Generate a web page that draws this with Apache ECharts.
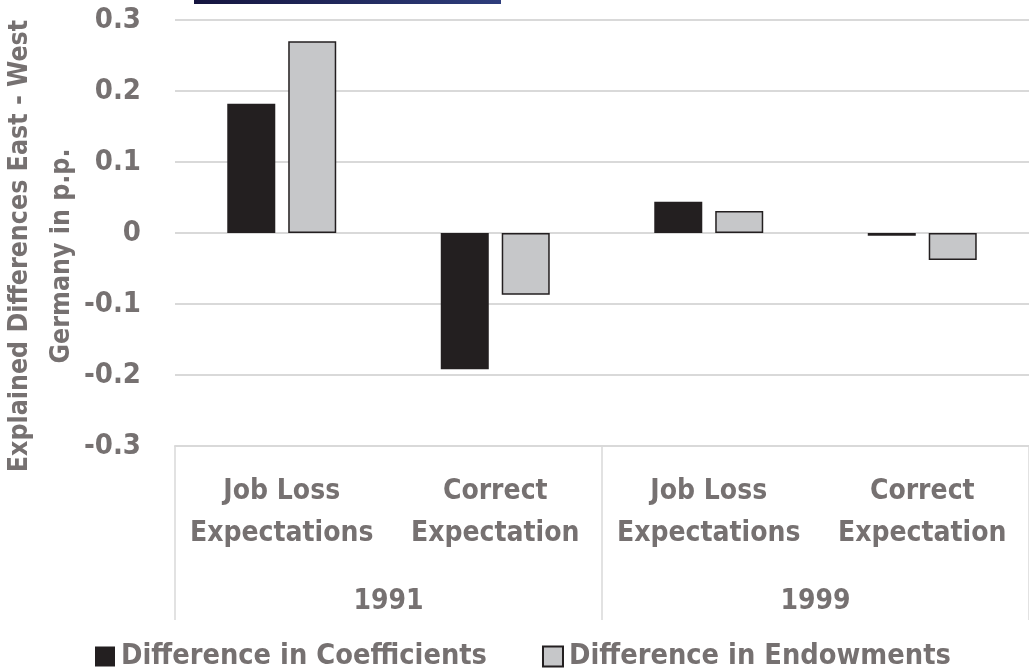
<!DOCTYPE html>
<html>
<head>
<meta charset="utf-8">
<script src="https://cdn.jsdelivr.net/npm/echarts@6/dist/echarts.min.js"></script>
<style>
html,body{margin:0;padding:0;background:#fff;}
#chart{width:1029px;height:670px;}
</style>
</head>
<body>
<div id="chart"></div>
<script>
// ---- data ----
var categories = ['Job Loss\nExpectations', 'Correct\nExpectation', 'Job Loss\nExpectations', 'Correct\nExpectation'];
var years = ['1991', '1999'];
var seriesNames = ['Difference in Coefficients', 'Difference in Endowments'];
var coefficients = [0.182, -0.192, 0.044, -0.004];
var endowments = [0.270, -0.087, 0.031, -0.038];
var yTitleLines = ['Explained Differences East - West', 'Germany in p.p.'];

// ---- styling ----
var FONT = '"Liberation Sans Narrow", "DejaVu Sans Condensed", "Liberation Sans", sans-serif';
var TXT = '#767171';
var GRID = '#d9d9d9';

var chart = echarts.init(document.getElementById('chart'), null, {renderer: 'canvas'});
chart.setOption({
  animation: false,
  backgroundColor: '#ffffff',
  grid: {left: 175, right: 0, top: 20, bottom: 224, containLabel: false},
  legend: {
    left: 90, top: 637,
    icon: 'rect', itemWidth: 20, itemHeight: 20, itemGap: 55,
    textStyle: {fontFamily: FONT, fontWeight: 'bold', fontSize: 28.7, color: TXT, padding: [0, 0, 0, 1]},
    data: seriesNames
  },
  xAxis: [
    {
      type: 'category', data: categories, position: 'bottom',
      axisLine: {show: false}, axisTick: {show: false},
      axisLabel: {interval: 0, margin: 25, fontFamily: FONT, fontWeight: 'bold', fontSize: 28, color: TXT, lineHeight: 42}
    },
    {
      type: 'category', data: years, position: 'bottom',
      axisLine: {show: true, lineStyle: {color: GRID, width: 2}},
      axisTick: {show: true, interval: 0, length: 174, lineStyle: {color: GRID, width: 1.5}},
      axisLabel: {interval: 0, margin: 135, fontFamily: FONT, fontWeight: 'bold', fontSize: 28, color: TXT, lineHeight: 42}
    }
  ],
  yAxis: {
    type: 'value', min: -0.3, max: 0.3, interval: 0.1,
    axisLine: {show: false}, axisTick: {show: false},
    splitLine: {show: true, lineStyle: {color: GRID, width: 2}},
    axisLabel: {
      margin: 34, fontFamily: FONT, fontWeight: 'bold', fontSize: 29, color: TXT,
      formatter: function (v) { return Math.abs(v) < 1e-9 ? '0' : v.toFixed(1); }
    }
  },
  series: [
    {
      name: seriesNames[0], type: 'bar', xAxisIndex: 0, data: coefficients,
      barWidth: 48, barGap: '27%',
      itemStyle: {color: '#231f20'}
    },
    {
      name: seriesNames[1], type: 'bar', xAxisIndex: 0, data: endowments,
      barWidth: 48,
      itemStyle: {color: '#c6c7c9', borderColor: '#231f20', borderWidth: 1.5}
    }
  ],
  graphic: [
    {
      type: 'rect', left: 194, top: 0, shape: {width: 307, height: 4}, silent: true,
      style: {fill: new echarts.graphic.LinearGradient(0, 0, 1, 0, [{offset: 0, color: '#15153f'}, {offset: 1, color: '#2e3d7c'}])}
    },
    {
      type: 'text', x: 20, y: 246, rotation: Math.PI / 2, silent: true,
      style: {text: yTitleLines[0], fontFamily: FONT, fontWeight: 'bold', fontSize: 26.5, fill: TXT, textAlign: 'center', textVerticalAlign: 'middle'}
    },
    {
      type: 'text', x: 62, y: 256, rotation: Math.PI / 2, silent: true,
      style: {text: yTitleLines[1], fontFamily: FONT, fontWeight: 'bold', fontSize: 26.5, fill: TXT, textAlign: 'center', textVerticalAlign: 'middle'}
    }
  ]
});
</script>
</body>
</html>
